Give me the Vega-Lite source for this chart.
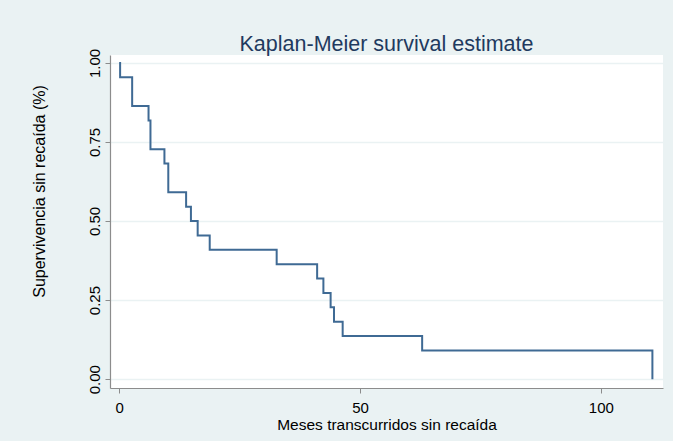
{
  "$schema": "https://vega.github.io/schema/vega-lite/v6.json",
  "width": 553,
  "height": 333,
  "autosize": {"type": "none"},
  "padding": {"left": 110, "top": 55, "right": 10, "bottom": 53},
  "background": "#EAF2F3",
  "title": {
    "text": "Kaplan-Meier survival estimate",
    "fontSize": 21.5,
    "font": "Liberation Sans",
    "fontWeight": "normal",
    "color": "#1F3A5F",
    "anchor": "middle",
    "frame": "group",
    "offset": -7
  },
  "data": {
    "values": [
      {"t": 0, "s": 1.0},
      {"t": 0.2, "s": 0.9545},
      {"t": 2.7, "s": 0.8636},
      {"t": 6.1, "s": 0.8182},
      {"t": 6.5, "s": 0.7273},
      {"t": 9.4, "s": 0.6818},
      {"t": 10.2, "s": 0.5909},
      {"t": 13.9, "s": 0.5455},
      {"t": 14.9, "s": 0.5},
      {"t": 16.3, "s": 0.4545},
      {"t": 18.8, "s": 0.4091},
      {"t": 32.7, "s": 0.3636},
      {"t": 41.1, "s": 0.3182},
      {"t": 42.4, "s": 0.2727},
      {"t": 43.9, "s": 0.2273},
      {"t": 44.6, "s": 0.1818},
      {"t": 46.4, "s": 0.1364},
      {"t": 62.9, "s": 0.0909},
      {"t": 110.7, "s": 0.0}
    ]
  },
  "mark": {"type": "line", "interpolate": "step-after", "color": "#3F6A94", "strokeWidth": 2},
  "encoding": {
    "x": {
      "field": "t",
      "type": "quantitative",
      "scale": {"domain": [-1.9, 112.9], "nice": false, "zero": false},
      "axis": {
        "values": [0, 50, 100],
        "grid": false,
        "title": "Meses transcurridos sin recaída",
        "titleFontSize": 15.5,
        "titlePadding": 2,
        "labelPadding": 7,
        "labelFlush": false
      }
    },
    "y": {
      "field": "s",
      "type": "quantitative",
      "scale": {"domain": [-0.028, 1.025], "nice": false, "zero": false},
      "axis": {
        "values": [0, 0.25, 0.5, 0.75, 1],
        "format": ".2f",
        "grid": true,
        "gridColor": "#EAF2F3",
        "gridWidth": 1.5,
        "labelAngle": 270,
        "labelAlign": "center",
        "labelBaseline": "bottom",
        "labelPadding": 3,
        "title": "Supervivencia sin recaída (%)",
        "titleFontSize": 16,
        "titlePadding": 40,
        "titleY": 136
      }
    }
  },
  "config": {
    "view": {"fill": "white", "stroke": null},
    "axis": {
      "labelFont": "Liberation Sans",
      "titleFont": "Liberation Sans",
      "labelFontSize": 15,
      "labelColor": "#000000",
      "titleColor": "#000000",
      "titleFontWeight": "normal",
      "tickSize": 5,
      "tickColor": "#8C8C8C",
      "domainColor": "#8C8C8C",
      "domainWidth": 1.2
    }
  }
}
